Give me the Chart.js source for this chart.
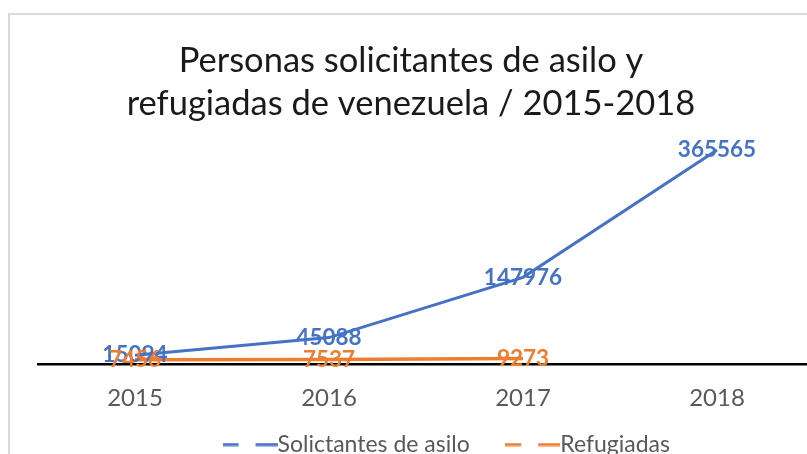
<!DOCTYPE html>
<html><head><meta charset="utf-8">
<script src="https://cdn.jsdelivr.net/npm/chart.js@4.4.0/dist/chart.umd.min.js"></script>
<style>
html,body{margin:0;padding:0;background:#fff;overflow:hidden;width:807px;height:454px;}
#frame{position:absolute;left:8px;top:13px;width:900px;height:600px;border-left:2px solid #d9d9d9;border-top:2px solid #d9d9d9;box-sizing:border-box;}
#c{position:absolute;left:0;top:0;}
</style></head><body>
<div id="frame"></div>
<canvas id="c" width="840" height="516"></canvas>
<script>
// ---- data ----
const years = ['2015', '2016', '2017', '2018'];
const solicitantes = [15094, 45088, 147976, 365565];
const refugiadas = [7456, 7537, 9273, null];
const seriesNames = ['Solictantes de asilo', 'Refugiadas'];
const titleLines = ['Personas solicitantes de asilo y', 'refugiadas de venezuela / 2015-2018'];
const yMin = 0, yMax = 400000;

// ---- styles ----
const BLUE = '#4472C4', ORANGE = '#ED7D31', GREY = '#595959';
const FONT = 'Lato';
const TITLE_DX = -15, LEGEND_DX = 26, LEGEND_DY = -46;

function dashSymbol(color) {
  const c = document.createElement('canvas');
  c.width = 55; c.height = 4;
  const g = c.getContext('2d');
  g.fillStyle = color;
  g.fillRect(0, 0.5, 16, 3);
  g.fillRect(33, 0.5, 22, 3);
  return c;
}

const valueLabels = {
  id: 'valueLabels',
  afterDatasetsDraw(chart) {
    const ctx = chart.ctx;
    chart.data.datasets.forEach((ds, i) => {
      const meta = chart.getDatasetMeta(i);
      meta.data.forEach((pt, j) => {
        const v = ds.data[j];
        if (v === null || v === undefined) return;
        ctx.save();
        ctx.font = 'bold 22.5px ' + FONT;
        ctx.fillStyle = ds.borderColor;
        ctx.textAlign = 'center';
        ctx.textBaseline = 'middle';
        ctx.fillText(String(v), pt.x, pt.y);
        ctx.restore();
      });
    });
  }
};

const shiftBoxes = {
  id: 'shiftBoxes',
  afterLayout(chart) {
    if (chart.titleBlock) { chart.titleBlock.left += TITLE_DX; chart.titleBlock.right += TITLE_DX; }
    if (chart.legend) {
      chart.legend.left += LEGEND_DX; chart.legend.right += LEGEND_DX;
      chart.legend.top += LEGEND_DY; chart.legend.bottom += LEGEND_DY;
    }
  }
};

new Chart(document.getElementById('c'), {
  type: 'line',
  data: {
    labels: years,
    datasets: [
      { label: seriesNames[0], data: solicitantes, borderColor: BLUE, backgroundColor: BLUE,
        borderWidth: 3, pointRadius: 0, pointStyle: dashSymbol(BLUE), tension: 0 },
      { label: seriesNames[1], data: refugiadas, borderColor: ORANGE, backgroundColor: ORANGE,
        borderWidth: 3.5, pointRadius: 0, pointStyle: dashSymbol(ORANGE), tension: 0 }
    ]
  },
  options: {
    responsive: false,
    animation: false,
    devicePixelRatio: 1,
    layout: { padding: { left: 38, right: 26, top: 0, bottom: 4 } },
    plugins: {
      title: {
        display: true, text: titleLines, color: '#1a1a1a',
        font: { family: FONT, size: 34.5, weight: 'normal', lineHeight: 1.25 },
        padding: { top: 39.5, bottom: 4 }
      },
      legend: {
        display: true, position: 'bottom',
        labels: {
          usePointStyle: true, pointStyleWidth: 32, padding: 47,
          color: GREY, font: { family: FONT, size: 23 }
        }
      },
      tooltip: { enabled: false }
    },
    scales: {
      x: {
        type: 'category', offset: true,
        grid: { display: false, drawTicks: false },
        border: { display: true, color: '#000', width: 2.5 },
        ticks: { color: GREY, font: { family: FONT, size: 24, lineHeight: 1 }, padding: 22 }
      },
      y: { display: false, min: yMin, max: yMax }
    }
  },
  plugins: [valueLabels, shiftBoxes]
});
</script>
</body></html>
